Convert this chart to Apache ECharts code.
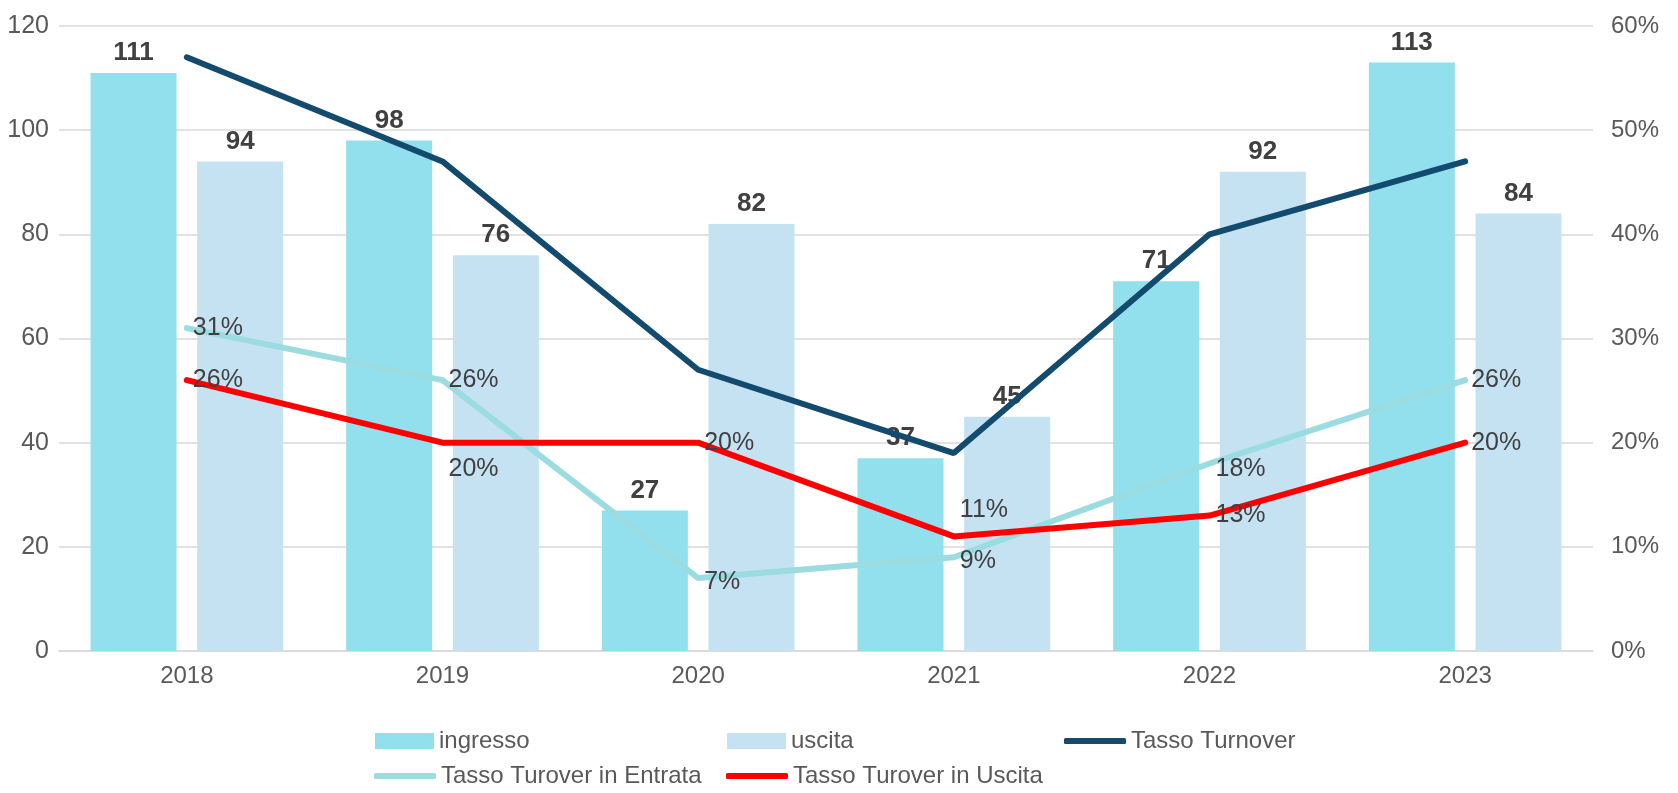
<!DOCTYPE html>
<html>
<head>
<meta charset="utf-8">
<script src="https://cdn.jsdelivr.net/npm/echarts@6/dist/echarts.min.js"></script>
<style>
html,body{margin:0;padding:0;background:#fff;}
#main{width:1678px;height:793px;}
</style>
</head>
<body>
<div id="main"></div>
<script>
const categories = ['2018', '2019', '2020', '2021', '2022', '2023'];
const ingresso = [111, 98, 27, 37, 71, 113];
const uscita = [94, 76, 82, 45, 92, 84];
const tassoTurnover = [57, 47, 27, 19, 40, 47];
const tassoEntrata = [31, 26, 7, 9, 18, 26];
const tassoUscita = [26, 20, 20, 11, 13, 20];
const leftTicks = [0, 20, 40, 60, 80, 100, 120];
const rightTicks = [0, 10, 20, 30, 40, 50, 60];

// label offsets (styling only)
const entrataOffsets = [[0,0],[0,0],[0,4],[0,4],[0,6],[0,0]];
const uscitaOffsets = [[0,0],[0,26],[0,0],[0,-26],[0,0],[0,0]];

const font = 'Liberation Sans, Arial, sans-serif';
const chart = echarts.init(document.getElementById('main'));

function pctData(vals, offs) {
  return vals.map((v, i) => ({
    value: v,
    label: { offset: offs[i] }
  }));
}

const legendText = { fontFamily: font, fontSize: 24, color: '#595959' };
const barLegend = { itemWidth: 59, itemHeight: 16, icon: 'rect', itemGap: 0, textStyle: legendText };
const lineLegend = { itemWidth: 62, itemHeight: 6, icon: 'roundRect', itemGap: 0, textStyle: legendText };

chart.setOption({
  animation: false,
  textStyle: { fontFamily: font },
  grid: { left: 59, right: 85, top: 26, bottom: 142, containLabel: false },
  legend: [
    Object.assign({}, barLegend, { data: ['ingresso'], left: 370, top: 724 }),
    Object.assign({}, barLegend, { data: ['uscita'], left: 722, top: 724 }),
    Object.assign({}, lineLegend, { data: ['Tasso Turnover'], left: 1059, top: 724 }),
    Object.assign({}, lineLegend, { data: ['Tasso Turover in Entrata'], left: 369, top: 759 }),
    Object.assign({}, lineLegend, { data: ['Tasso Turover in Uscita'], left: 721, top: 759 })
  ],
  xAxis: {
    type: 'category',
    data: categories,
    axisLine: { lineStyle: { color: '#D9D9D9', width: 1.5 } },
    axisTick: { show: false },
    axisLabel: { color: '#595959', fontSize: 24, margin: 13, fontFamily: font }
  },
  yAxis: [
    {
      type: 'value', min: leftTicks[0], max: leftTicks[leftTicks.length - 1], interval: 20,
      axisLine: { show: false }, axisTick: { show: false },
      splitLine: { lineStyle: { color: '#D9D9D9', width: 1.5 } },
      axisLabel: { color: '#595959', fontSize: 25, margin: 10, fontFamily: font }
    },
    {
      type: 'value', min: rightTicks[0], max: rightTicks[rightTicks.length - 1], interval: 10,
      axisLine: { show: false }, axisTick: { show: false },
      splitLine: { show: false },
      axisLabel: { color: '#595959', fontSize: 24, margin: 18, fontFamily: font, formatter: '{value}%' }
    }
  ],
  series: [
    {
      name: 'ingresso', type: 'bar', data: ingresso,
      barWidth: 86, barGap: '24%',
      itemStyle: { color: '#92DFEE' },
      label: { show: true, position: 'top', distance: 7, color: '#404040', fontSize: 26, fontWeight: 'bold', fontFamily: font }
    },
    {
      name: 'uscita', type: 'bar', data: uscita,
      barWidth: 86,
      itemStyle: { color: '#C5E2F3' },
      label: { show: true, position: 'top', distance: 7, color: '#404040', fontSize: 26, fontWeight: 'bold', fontFamily: font }
    },
    {
      name: 'Tasso Turnover', type: 'line', yAxisIndex: 1, data: tassoTurnover,
      symbol: 'none', z: 5,
      lineStyle: { color: '#134B6E', width: 6, cap: 'round' },
      itemStyle: { color: '#134B6E' }
    },
    {
      name: 'Tasso Turover in Entrata', type: 'line', yAxisIndex: 1,
      data: pctData(tassoEntrata, entrataOffsets),
      symbol: 'circle', symbolSize: 0, showSymbol: true, z: 4,
      lineStyle: { color: '#9ADCE0', width: 6, cap: 'round' },
      itemStyle: { color: '#9ADCE0' },
      label: { show: true, position: 'right', distance: 6, color: '#404040', fontSize: 25, fontFamily: font, formatter: '{c}%' }
    },
    {
      name: 'Tasso Turover in Uscita', type: 'line', yAxisIndex: 1,
      data: pctData(tassoUscita, uscitaOffsets),
      symbol: 'circle', symbolSize: 0, showSymbol: true, z: 4,
      lineStyle: { color: '#FF0000', width: 6, cap: 'round' },
      itemStyle: { color: '#FF0000' },
      label: { show: true, position: 'right', distance: 6, color: '#404040', fontSize: 25, fontFamily: font, formatter: '{c}%' }
    }
  ]
});
</script>
</body>
</html>
